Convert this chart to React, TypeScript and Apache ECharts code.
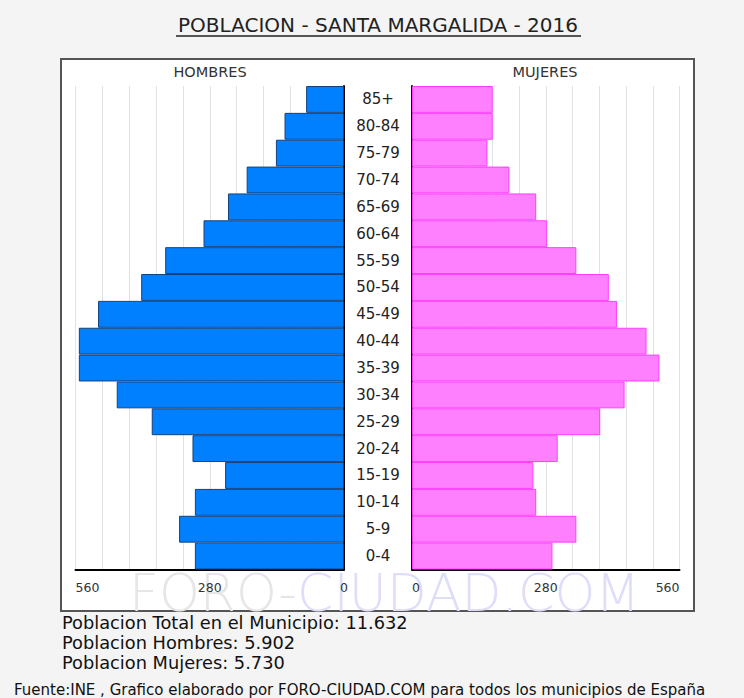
import React, { useEffect, useRef } from "react";
import * as echarts from "echarts";

const ageGroups = ["0-4", "5-9", "10-14", "15-19", "20-24", "25-29", "30-34", "35-39", "40-44", "45-49", "50-54", "55-59", "60-64", "65-69", "70-74", "75-79", "80-84", "85+"];
const hombres = [311, 344, 311, 248, 316, 401, 474, 553, 553, 513, 423, 373, 293, 242, 203, 142, 124, 79];
const mujeres = [294, 344, 260, 254, 305, 394, 445, 518, 491, 429, 412, 344, 283, 260, 204, 158, 169, 169];
const axisMax = 560;
const axisStep = 56;
const shownTicks = [0, 280, 560];
const titleText = "POBLACION - SANTA MARGALIDA - 2016";
const sideLabels = ["HOMBRES", "MUJERES"];
const summaryLines = [
  "Poblacion Total en el Municipio: 11.632",
  "Poblacion Hombres: 5.902",
  "Poblacion Mujeres: 5.730",
];
const footerText = "Fuente:INE , Grafico elaborado por FORO-CIUDAD.COM para todos los municipios de España";

const FONT = "'DejaVu Sans', Verdana, sans-serif";

export default function App() {
  const ref = useRef<HTMLDivElement>(null);
  useEffect(() => {
    if (!ref.current) return;
    const chart = echarts.init(ref.current, null, { renderer: "svg" });
    const fmt = (v: number) => (shownTicks.includes(v) ? String(v) : "");
    const gridTop = 86;
    const gridH = 483.5;
    const option: any = {
      animation: false,
      backgroundColor: "#f4f4f4",
      textStyle: { fontFamily: FONT },
      grid: [
        { left: 75.5, top: gridTop, width: 268.5, height: gridH },
        { left: 412, top: gridTop, width: 267.5, height: gridH },
      ],
      xAxis: [
        {
          gridIndex: 0, type: "value", inverse: true, min: 0, max: axisMax, interval: axisStep,
          axisLine: { show: true, lineStyle: { color: "#000", width: 2 } },
          axisTick: { show: false },
          axisLabel: { formatter: fmt, color: "#333", fontSize: 12.5, margin: 11, fontFamily: FONT, alignMaxLabel: "left" },
          splitLine: { show: true, lineStyle: { color: "#e2e2e2", width: 1 } },
        },
        {
          gridIndex: 1, type: "value", min: 0, max: axisMax, interval: axisStep,
          axisLine: { show: true, lineStyle: { color: "#000", width: 2 } },
          axisTick: { show: false },
          axisLabel: { formatter: fmt, color: "#333", fontSize: 12.5, margin: 11, fontFamily: FONT, alignMaxLabel: "right", alignMinLabel: "left" },
          splitLine: { show: true, lineStyle: { color: "#e2e2e2", width: 1 } },
        },
      ],
      yAxis: [
        {
          gridIndex: 0, type: "category", data: ageGroups, position: "right",
          axisLine: { show: true, lineStyle: { color: "#000", width: 2 } },
          axisTick: { show: false },
          axisLabel: { align: "center", margin: 34, fontSize: 15, color: "#222", fontFamily: FONT },
          splitLine: { show: false },
        },
        {
          gridIndex: 1, type: "category", data: ageGroups, position: "left",
          axisLine: { show: true, lineStyle: { color: "#000", width: 2 } },
          axisTick: { show: false },
          axisLabel: { show: false },
          splitLine: { show: false },
        },
      ],
      series: [
        {
          type: "bar", xAxisIndex: 0, yAxisIndex: 0, data: hombres, barWidth: "100%", barCategoryGap: 0,
          itemStyle: { color: "#0080ff", borderColor: "#17407a", borderWidth: 1 },
        },
        {
          type: "bar", xAxisIndex: 1, yAxisIndex: 1, data: mujeres, barWidth: "100%", barCategoryGap: 0,
          itemStyle: { color: "#ff80ff", borderColor: "#ff3cff", borderWidth: 1 },
        },
      ],
      graphic: [
        {
          type: "rect", z: -10, silent: true,
          shape: { x: 61, y: 59, width: 633, height: 552 },
          style: { fill: "#ffffff", stroke: "#555555", lineWidth: 2 },
        },
        {
          type: "text", z: -5, silent: true, x: 129, y: 593,
          style: {
            text: "{a|FORO-}{b|CIUDAD.COM}",
            verticalAlign: "middle",
            rich: {
              a: { fontSize: 52, fontFamily: FONT, fontWeight: 200, fill: "#e6e6e6" },
              b: { fontSize: 52, fontFamily: FONT, fontWeight: 200, fill: "#dedef9" },
            },
          },
        },
        {
          type: "text", x: 378, y: 25,
          style: { text: titleText, align: "center", verticalAlign: "middle", font: `20px ${FONT}`, fill: "#222" },
        },
        { type: "line", shape: { x1: 176, y1: 36, x2: 581, y2: 36 }, style: { stroke: "#222", lineWidth: 1.5 } },
        {
          type: "text", x: 210, y: 72,
          style: { text: sideLabels[0], align: "center", verticalAlign: "middle", font: `14.5px ${FONT}`, fill: "#333" },
        },
        {
          type: "text", x: 545, y: 72,
          style: { text: sideLabels[1], align: "center", verticalAlign: "middle", font: `14.5px ${FONT}`, fill: "#333" },
        },
        ...summaryLines.map((t, i) => ({
          type: "text", x: 62, y: 622 + i * 20,
          style: { text: t, align: "left", verticalAlign: "middle", font: `17.8px ${FONT}`, fill: "#111" },
        })),
        {
          type: "text", x: 14, y: 690,
          style: { text: footerText, align: "left", verticalAlign: "middle", font: `15px ${FONT}`, fill: "#111" },
        },
      ],
    };
    chart.setOption(option);
    return () => chart.dispose();
  }, []);
  return (
    <div
      ref={ref}
      style={{ position: "fixed", left: 0, top: 0, width: 744, height: 698 }}
    />
  );
}
